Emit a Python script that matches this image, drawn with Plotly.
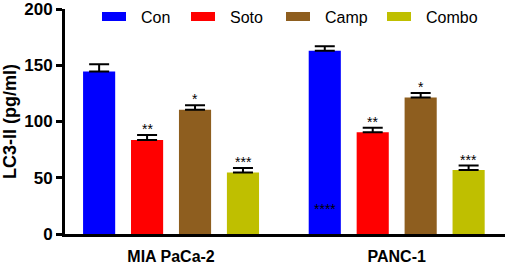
import plotly.graph_objects as go

categories = ["MIA PaCa-2", "PANC-1"]
series = ["Con", "Soto", "Camp", "Combo"]
values = {
    "Con": [144.5, 163.0],
    "Soto": [83.5, 90.5],
    "Camp": [110.5, 121.3],
    "Combo": [54.6, 56.8],
}
errors = {
    "Con": [6.5, 4.0],
    "Soto": [4.5, 4.0],
    "Camp": [4.0, 4.0],
    "Combo": [4.0, 4.0],
}
stars = {
    "Con": ["", ""],
    "Soto": ["**", "**"],
    "Camp": ["*", "*"],
    "Combo": ["***", "***"],
}
inner_star_text = "****"
inner_star_value = 22
inner_star_cat = "PANC-1"
y_ticks = [0, 50, 100, 150, 200]
colors = {"Con": "#0000FF", "Soto": "#FF0000", "Camp": "#8E5E1F", "Combo": "#BFBF00"}

FONT = "Liberation Sans, Arial, sans-serif"
TOP, BOTTOM = 9, 234
PH = BOTTOM - TOP
fig = go.Figure()
for s in series:
    fig.add_trace(go.Bar(
        x=categories, y=values[s], name=s,
        marker=dict(color=colors[s], line=dict(width=0)),
        error_y=dict(type="data", array=errors[s], arrayminus=[0]*len(categories),
                     symmetric=False, color="black", thickness=2, width=10),
        showlegend=False,
    ))

slot = 48
annotations = []
for i, s in enumerate(series):
    off = (i - 1.5) * slot
    for j, c in enumerate(categories):
        if stars[s][j]:
            annotations.append(dict(
                x=c, y=values[s][j] + errors[s][j], xref="x", yref="y",
                text=stars[s][j], showarrow=False, xshift=off, yanchor="bottom", yshift=-4,
                font=dict(family=FONT, size=14, color="black")))
annotations.append(dict(
    x=inner_star_cat, y=inner_star_value, xref="x", yref="y", text=inner_star_text,
    showarrow=False, xshift=-1.5 * slot, yanchor="middle",
    font=dict(family=FONT, size=14, color="black")))

# manual legend
leg_x = [102, 191, 286, 387]
shapes = []
for s, lx in zip(series, leg_x):
    shapes.append(dict(type="rect", xref="paper", yref="paper",
                       x0=(lx - 65) / 440, x1=(lx + 24 - 65) / 440,
                       y0=(BOTTOM - 21) / PH, y1=(BOTTOM - 12) / PH,
                       fillcolor=colors[s], line=dict(width=0)))
    annotations.append(dict(x=(lx + 37 - 65) / 440, y=(BOTTOM - 17) / PH, xref="paper", yref="paper",
                            text=s, showarrow=False, xanchor="left", yanchor="middle",
                            font=dict(family=FONT, size=16, color="black")))

fig.update_layout(
    width=505, height=264,
    margin=dict(l=65, r=0, t=TOP, b=264 - BOTTOM),
    paper_bgcolor="white", plot_bgcolor="white",
    barmode="group", bargap=0.15, bargroupgap=0.33,
    annotations=annotations, shapes=shapes,
    font=dict(family=FONT, color="black"),
)
fig.update_xaxes(range=[-0.47, 1.48], showline=True, linecolor="black", linewidth=3,
                 ticks="", tickfont=dict(family=FONT, size=16, color="black", weight="bold"),
                 ticklabelstandoff=6, automargin=False,
                 showgrid=False, zeroline=False)
fig.update_yaxes(range=[0, 200], tickvals=y_ticks, showline=True, linecolor="black", linewidth=3,
                 ticks="outside", ticklen=6, tickwidth=3, tickcolor="black",
                 ticklabeloverflow="allow", automargin=False,
                 tickfont=dict(family=FONT, size=17, color="black", weight="bold"),
                 title=dict(text="<b>LC3-II (pg/ml)</b>", font=dict(family=FONT, size=18, color="black"), standoff=6),
                 showgrid=False, zeroline=False)
fig.write_html("out.html", config={"displayModeBar": False},
               post_script="document.body.style.margin='0';document.body.style.padding='0';")
